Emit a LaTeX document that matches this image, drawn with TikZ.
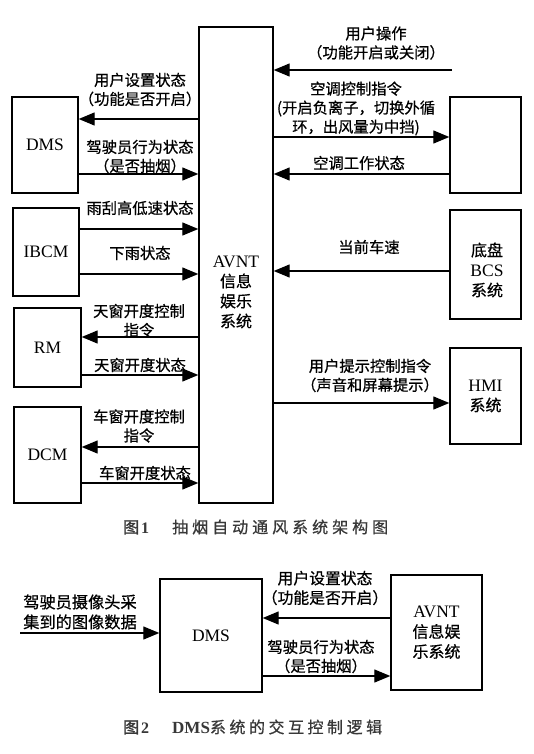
\documentclass[tikz,border=0pt]{standalone}
\usepackage{fontspec}
\setmainfont{Liberation Serif}
\newfontfamily\cjk[FakeBold=0.6]{Noto Sans CJK SC}
\newfontfamily\cjkcapA[LetterSpace=25,FakeBold=0.7]{Noto Sans CJK SC}
\newfontfamily\cjkcapB[LetterSpace=22,FakeBold=0.7]{Noto Sans CJK SC}
\newfontfamily\cjkbold[FakeBold=1.6]{Noto Sans CJK SC}
\usetikzlibrary{arrows.meta}
\definecolor{capgray}{gray}{0.22}
\newcommand\lblfont{\cjk\fontsize{15.3}{19}\selectfont}
\newcommand\boxfont{\rmfamily\fontsize{17.5}{20}\selectfont}
\newcommand\boxcjk{\cjk\fontsize{16}{20}\selectfont}
\tikzset{
  box/.style={draw, line width=1.4pt, inner sep=0pt, align=center, font=\boxfont},
  arr/.style={line width=1.3pt, -{Triangle[length=16pt,width=13pt]}},
  lbl/.style={align=center, inner sep=0pt, font=\lblfont},
}
\begin{document}
\begin{tikzpicture}[x=1pt,y=-1pt]
\useasboundingbox[fill=white] (0,0) rectangle (534,754);

% ---------- Figure 1 boxes ----------
\node[box, minimum width=74pt, minimum height=476pt] (avnt) at (236,265) {};
\node[font=\boxfont, align=center, inner sep=0pt] (avnttxt) at (236,292)
  {AVNT\\{\boxcjk 信息}\\{\boxcjk 娱乐}\\{\boxcjk 系统}};
\node[box, minimum width=66pt, minimum height=96pt] (dms) at (45,145) {DMS};
\node[box, minimum width=66pt, minimum height=88pt] (ibcm) at (46,252) {IBCM};
\node[box, minimum width=67pt, minimum height=79pt] (rm) at (47.5,347.5) {RM};
\node[box, minimum width=67pt, minimum height=96pt] (dcm) at (47.5,455) {DCM};
\node[box, minimum width=71pt, minimum height=96pt] (ac) at (485.5,145) {};
\node[box, minimum width=71pt, minimum height=109pt] (bcs) at (485.5,264.5) {};
\node[font=\boxfont, align=center, inner sep=0pt] (bcstxt) at (487,270)
  {{\boxcjk 底盘}\\BCS\\{\boxcjk 系统}};
\node[box, minimum width=71pt, minimum height=96pt] (hmi) at (485.5,396)
  {HMI\\{\boxcjk 系统}};
\coordinate (userop) at (452,70);

% ---------- Figure 1 connectors ----------
\draw[arr] (avnt.west |- 0,119) -- (dms.east |- 0,119);
\draw[arr] (dms.east |- 0,174) -- (avnt.west |- 0,174);
\draw[arr] (ibcm.east |- 0,229) -- (avnt.west |- 0,229);
\draw[arr] (ibcm.east |- 0,274) -- (avnt.west |- 0,274);
\draw[arr] (avnt.west |- 0,337) -- (rm.east |- 0,337);
\draw[arr] (rm.east |- 0,375) -- (avnt.west |- 0,375);
\draw[arr] (avnt.west |- 0,447) -- (dcm.east |- 0,447);
\draw[arr] (dcm.east |- 0,483) -- (avnt.west |- 0,483);
\draw[arr] (userop) -- (avnt.east |- userop);
\draw[arr] (avnt.east |- 0,137) -- (ac.west |- 0,137);
\draw[arr] (ac.west |- 0,174) -- (avnt.east |- 0,174);
\draw[arr] (bcs.west |- 0,271) -- (avnt.east |- 0,271);
\draw[arr] (avnt.east |- 0,403) -- (hmi.west |- 0,403);

% ---------- Figure 1 labels ----------
\node[lbl] (l1) at (140,89.5) {用户设置状态\\（功能是否开启）};
\node[lbl] (l2) at (140,156.5) {驾驶员行为状态\\（是否抽烟）};
\node[lbl] (l3) at (140,208) {雨刮高低速状态};
\node[lbl] (l4) at (140,253) {下雨状态};
\node[lbl] (l5) at (139,320.5) {天窗开度控制\\指令};
\node[lbl] (l6) at (140,365) {天窗开度状态};
\node[lbl] (l7) at (139,426) {车窗开度控制\\指令};
\node[lbl] (l8) at (145,473) {车窗开度状态};
\node[lbl] (r1) at (376,43) {用户操作\\（功能开启或关闭）};
\node[lbl] (r2) at (356,108.5) {空调控制指令\\(开启负离子，切换外循\\环，出风量为中挡)};
\node[lbl] (r3) at (359,163) {空调工作状态};
\node[lbl] (r4) at (369,247) {当前车速};
\node[lbl] (r5) at (370,375.5) {用户提示控制指令\\（声音和屏幕提示）};

% ---------- Caption 1 ----------
\node[anchor=west, inner sep=0pt, text=capgray] (cap1) at (123,527)
  {{\cjkbold\fontsize{16}{17}\selectfont 图}\hspace{2pt}{\rmfamily\bfseries\fontsize{16}{17}\selectfont 1}\hspace{23pt}{\cjkcapA\fontsize{16}{17}\selectfont 抽烟自动通风系统架构图}};

% ---------- Figure 2 ----------
\node[box, minimum width=102pt, minimum height=113pt] (dms2) at (211,635.5) {DMS};
\node[box, minimum width=91pt, minimum height=115pt] (avnt2) at (436.5,632.5)
  {AVNT\\{\boxcjk 信息娱}\\{\boxcjk 乐系统}};
\coordinate (cam) at (20,633);
\draw[arr] (cam) -- (dms2.west |- cam);
\draw[arr] (avnt2.west |- 0,618) -- (dms2.east |- 0,618);
\draw[arr] (dms2.east |- 0,676) -- (avnt2.west |- 0,676);
\node[lbl, font=\cjk\fontsize{16.2}{20}\selectfont] (f2l) at (80,612) {驾驶员摄像头采\\集到的图像数据};
\node[lbl, font=\cjk\fontsize{15.8}{19.5}\selectfont] (f2a) at (325,588) {用户设置状态\\（功能是否开启）};
\node[lbl, font=\cjk\fontsize{15.3}{19}\selectfont] (f2b) at (321,656.5) {驾驶员行为状态\\（是否抽烟）};

% ---------- Caption 2 ----------
\node[anchor=west, inner sep=0pt, text=capgray] (cap2) at (123,727)
  {{\cjkbold\fontsize{16}{17}\selectfont 图}\hspace{2pt}{\rmfamily\bfseries\fontsize{16}{17}\selectfont 2}\hspace{23pt}{\rmfamily\bfseries\fontsize{17}{17}\selectfont DMS}{\cjkcapB\fontsize{16}{17}\selectfont 系统的交互控制逻辑}};
\end{tikzpicture}
\end{document}
